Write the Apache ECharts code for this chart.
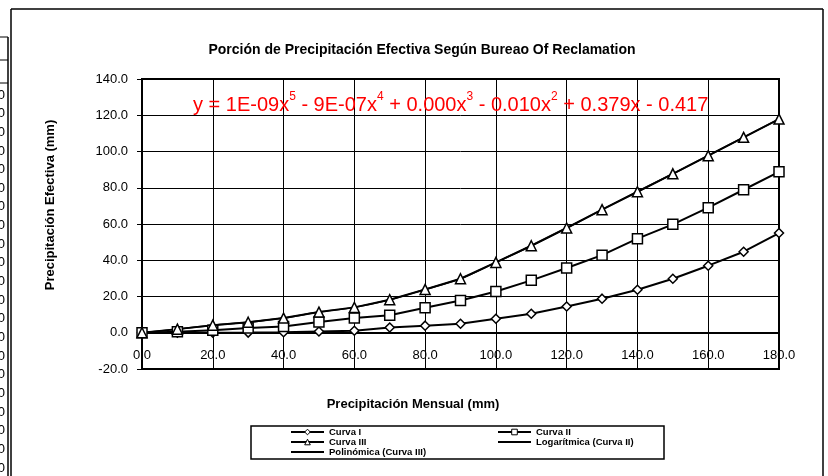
<!DOCTYPE html>
<html>
<head>
<meta charset="utf-8">
<script src="https://cdn.jsdelivr.net/npm/echarts@6/dist/echarts.min.js"></script>
<style>
html,body{margin:0;padding:0;background:#fff;}
#chart{width:828px;height:476px;}
</style>
</head>
<body>
<div id="chart"></div>
<script>
// ---- data ----
var xValues = [0,10,20,30,40,50,60,70,80,90,100,110,120,130,140,150,160,170,180];
var curvaI   = [0,0,0,0.1,0.3,0.7,1.1,2.9,3.9,5.0,7.7,10.5,14.5,18.8,23.7,29.8,37.0,44.7,55.0];
var curvaII  = [0,0.5,1.4,2.6,3.5,5.9,8.1,9.7,13.8,17.8,22.8,28.9,35.7,42.8,51.9,59.8,69.0,78.9,88.8];
var curvaIII = [0,2.0,4.2,5.8,8.1,11.4,14.0,18.2,23.9,29.8,38.8,48.0,57.8,67.9,77.8,87.7,97.7,107.8,117.9];
var logII    = [];
var polyIII  = [0,2.0,4.2,5.8,8.1,11.4,14.0,18.2,23.9,29.8,38.8,48.0,57.8,67.9,77.8,87.7,97.7,107.8,117.9];
var xTicks = {min:0, max:180, interval:20};
var yTicks = {min:-20, max:140, interval:20};
var titleText = 'Porción de Precipitación Efectiva Según Bureao Of Reclamation';
var yTitle = 'Precipitación Efectiva (mm)';
var xTitle = 'Precipitación Mensual (mm)';

function pairs(arr){ return arr.map(function(v,i){ return [xValues[i], v]; }); }

var chart = echarts.init(document.getElementById('chart'), null, {renderer:'canvas'});
var FONT = 'Liberation Sans, Arial, sans-serif';

var markerStyle = {color:'#fff', borderColor:'#000', borderWidth:1.5};
function lineSeries(name, data, symbol, size){
  return {
    name:name, type:'line', data:pairs(data), symbol:symbol, symbolSize:size,
    showAllSymbol:true,
    lineStyle:{color:'#000', width:2},
    itemStyle:markerStyle,
    emphasis:{disabled:true},
    animation:false, z:3
  };
}

var graphics = [];
// chart frame
graphics.push({type:'line', shape:{x1:11,y1:9,x2:823,y2:9}, style:{stroke:'#000', lineWidth:1.5}});
graphics.push({type:'line', shape:{x1:11,y1:9,x2:11,y2:476}, style:{stroke:'#000', lineWidth:1.5}});
graphics.push({type:'line', shape:{x1:823,y1:9,x2:823,y2:476}, style:{stroke:'#000', lineWidth:1.5}});
// left worksheet fragment
graphics.push({type:'line', shape:{x1:8,y1:37,x2:8,y2:476}, style:{stroke:'#000', lineWidth:1.5}});
[37,60,83].forEach(function(y){
  graphics.push({type:'line', shape:{x1:0,y1:y,x2:8,y2:y}, style:{stroke:'#000', lineWidth:1}});
});
for (var r=0; r<21; r++){
  graphics.push({type:'text', x:5, y:95 + r*18.65, style:{text:'0', font:'13px ' + FONT, fill:'#000', align:'right', verticalAlign:'middle'}});
}
// legend box
graphics.push({type:'rect', shape:{x:251,y:426,width:413,height:33}, style:{fill:'none', stroke:'#000', lineWidth:1.5}, z:1});
// axis titles
graphics.push({type:'text', x:50, y:205, rotation:Math.PI/2, style:{text:yTitle, font:'bold 13px ' + FONT, fill:'#000', align:'center', verticalAlign:'middle'}});
graphics.push({type:'text', x:413, y:404, style:{text:xTitle, font:'bold 13px ' + FONT, fill:'#000', align:'center', verticalAlign:'middle'}});
// trendline equation
graphics.push({type:'text', x:193, y:105, z:10, style:{
  text:'y = 1E-09x{s|5} - 9E-07x{s|4} + 0.000x{s|3} - 0.010x{s|2} + 0.379x - 0.417',
  font:'20px ' + FONT, fill:'#ff0000', verticalAlign:'middle', lineHeight:28,
  rich:{s:{fontSize:12, fontFamily:FONT, fill:'#ff0000', verticalAlign:'top', lineHeight:12}}
}});

var legendText = {fontFamily:FONT, fontSize:9.5, fontWeight:'bold', color:'#000', lineHeight:10};
var legendSym = {color:'#fff', borderColor:'#000', borderWidth:1};
var hiddenSym = {color:'rgba(0,0,0,0)', borderColor:'rgba(0,0,0,0)', borderWidth:0, opacity:0};

var option = {
  backgroundColor:'#fff',
  animation:false,
  title:{
    text:titleText, left:417, top:38, textAlign:'center',
    textStyle:{fontFamily:FONT, fontSize:14, fontWeight:'bold', color:'#000'}
  },
  grid:{left:142, right:49, top:79, bottom:107, show:true, borderColor:'#000', borderWidth:2, backgroundColor:'transparent'},
  legend:[
    {left:290, top:427, orient:'vertical', itemWidth:33, itemHeight:7, itemGap:0, itemStyle:legendSym,
     lineStyle:{width:2, color:'#000'},
     data:['Curva I','Curva III',{name:'Polinómica (Curva III)', itemStyle:hiddenSym}],
     textStyle:legendText, selectedMode:false, padding:0},
    {left:497, top:427, orient:'vertical', itemWidth:33, itemHeight:7, itemGap:0, itemStyle:legendSym,
     lineStyle:{width:2, color:'#000'},
     data:['Curva II',{name:'Logarítmica (Curva II)', itemStyle:hiddenSym}],
     textStyle:legendText, selectedMode:false, padding:0}
  ],
  xAxis:{
    type:'value', min:xTicks.min, max:xTicks.max, interval:xTicks.interval,
    axisLine:{onZero:true, lineStyle:{color:'#000', width:2}},
    axisTick:{show:false},
    axisLabel:{inside:true, fontFamily:FONT, fontSize:13, color:'#000', margin:7, formatter:function(v){return v.toFixed(1);}},
    splitLine:{show:true, lineStyle:{color:'#000', width:1}}
  },
  yAxis:{
    type:'value', min:yTicks.min, max:yTicks.max, interval:yTicks.interval,
    axisLine:{show:true, onZero:false, lineStyle:{color:'#000', width:2}},
    axisTick:{show:true, length:5, lineStyle:{color:'#000', width:1}},
    axisLabel:{fontFamily:FONT, fontSize:13, color:'#000', margin:14, formatter:function(v){return v.toFixed(1);}},
    splitLine:{show:true, lineStyle:{color:'#000', width:1}}
  },
  graphic:graphics,
  series:[
    lineSeries('Curva I', curvaI, 'diamond', 9),
    lineSeries('Curva II', curvaII, 'rect', 10),
    lineSeries('Curva III', curvaIII, 'triangle', 10),
    {name:'Logarítmica (Curva II)', type:'line', data:pairs(logII), symbol:'none', lineStyle:{color:'#000', width:2}, itemStyle:{color:'#000'}},
    {name:'Polinómica (Curva III)', type:'line', data:pairs(polyIII), symbol:'none', smooth:0.3, lineStyle:{color:'#000', width:1.5}, itemStyle:{color:'#000'}, z:2}
  ]
};
chart.setOption(option);
</script>
</body>
</html>
